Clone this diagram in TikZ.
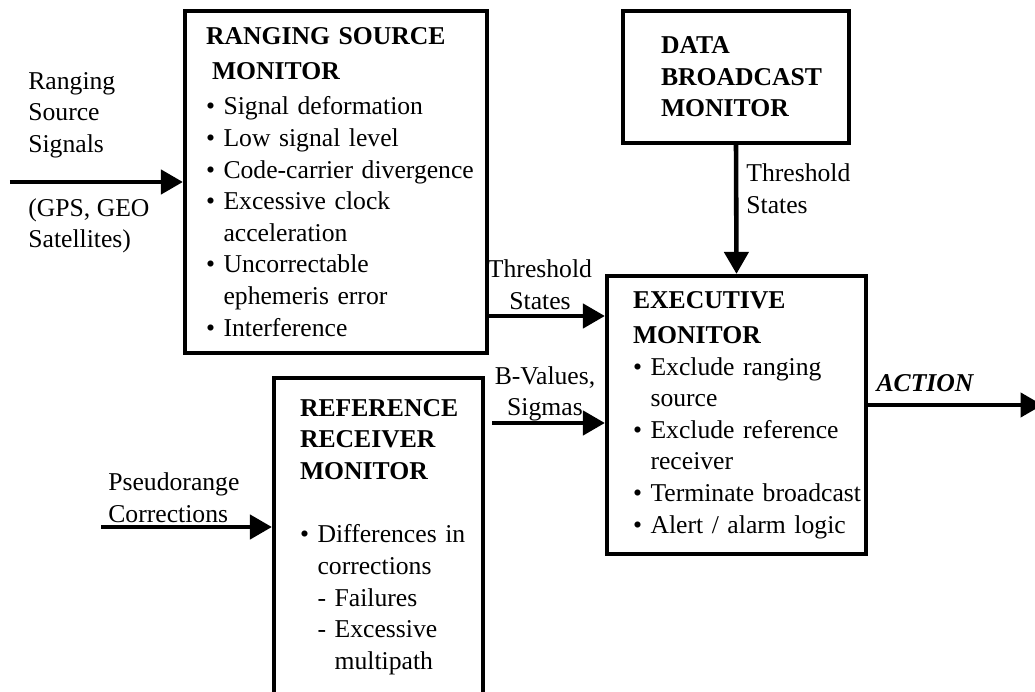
\documentclass[tikz,border=0pt]{standalone}
\usepackage{fontspec}
\setmainfont{Liberation Serif}
\usetikzlibrary{arrows.meta,positioning}

\newcommand{\bul}[1]{\mbox{\textbullet\ #1}}
\newcommand{\cont}[1]{\mbox{\hphantom{\textbullet\ }#1}}
\newcommand{\hd}[1]{\mbox{\textbf{#1}}}

\tikzset{
  monitor/.style={draw, line width=2.4pt, align=left, inner ysep=0pt, font=\fontsize{14.6}{18}\selectfont},
  flow/.style={line width=2.6pt, -{Triangle[length=4.4mm,width=4.8mm]}},
  tag/.style={align=left, inner sep=0pt, font=\fontsize{14.6}{18}\selectfont}
}

\begin{document}
\begin{tikzpicture}
    \clip (0,0) rectangle (20.7,13.82);

    % Monitors
    \node[monitor, minimum width=6.04cm, minimum height=6.84cm, text width=5.2cm, inner xsep=0.42cm] (rsm) at (6.72,10.18)
      {\hd{RANGING SOURCE}\\[2pt]
       \hspace*{0.12cm}\hd{MONITOR}\\[2pt]
       \bul{Signal deformation}\\
       \bul{Low signal level}\\
       \bul{Code-carrier divergence}\\
       \bul{Excessive clock}\\
       \cont{acceleration}\\
       \bul{Uncorrectable}\\
       \cont{ephemeris error}\\
       \bul{Interference}};
    \node[monitor, minimum width=4.52cm, minimum height=2.64cm, text width=3.0cm, inner xsep=0.76cm] (dbm) at (14.72,12.28)
      {\hd{DATA}\\ \hd{BROADCAST}\\ \hd{MONITOR}};
    \node[monitor, minimum width=5.18cm, minimum height=5.56cm, text width=4.14cm, inner xsep=0.52cm] (exec) at (14.73,5.52)
      {\hd{EXECUTIVE}\\[2pt]
       \hd{MONITOR}\\
       \bul{Exclude ranging}\\
       \cont{source}\\
       \bul{Exclude reference}\\
       \cont{receiver}\\
       \bul{Terminate broadcast}\\
       \bul{Alert / alarm logic}};
    \node[monitor, minimum width=4.18cm, minimum height=6.36cm, text width=3.14cm, inner xsep=0.52cm] (ref) at (7.57,3.08)
      {\hd{REFERENCE}\\
       \hd{RECEIVER}\\
       \hd{MONITOR}\\[18pt]
       \bul{Differences in}\\
       \cont{corrections}\\
       \cont{- Failures}\\
       \cont{- Excessive}\\
       \cont{\hphantom{- }multipath}};

    % Labels
    \node[tag, anchor=west] (signals) at (0.56,11.52) {Ranging\\ Source\\ Signals};
    \node[tag, anchor=west] (sats) at (0.56,9.30) {(GPS, GEO\\ Satellites)};
    \node[tag, align=center] (thrA) at (10.8,8.12) {Threshold\\ States};
    \node[tag, anchor=west] (thrB) at (14.92,10.05) {Threshold\\ States};
    \node[tag, align=center] (bval) at (10.9,5.94) {B-Values,\\ Sigmas};
    \node[tag, anchor=west] (pseudo) at (2.16,3.87) {Pseudorange\\ Corrections};
    \node[tag, font=\fontsize{14.6}{18}\selectfont\bfseries\itshape] (action) at (18.5,6.16) {ACTION};

    % Arrows
    \coordinate (inA) at (0.2,10.18);
    \coordinate (inB) at (2.02,3.28);
    \coordinate (out) at (20.85,5.72);
    \coordinate (exec in1) at ([yshift=1.98cm]exec.west);
    \coordinate (exec in2) at ([yshift=-0.16cm]exec.west);
    \draw[flow] (inA) -- (rsm.west);
    \draw[flow] (inB) -- (inB -| ref.west);
    \draw[flow] (rsm.east |- exec in1) -- (exec in1);
    \draw[flow, shorten <=0.14cm] (ref.east |- exec in2) -- (exec in2);
    \draw[flow] (dbm.south) -- (exec.north);
    \draw[flow] (exec.east |- out) -- (out);
\end{tikzpicture}
\end{document}
